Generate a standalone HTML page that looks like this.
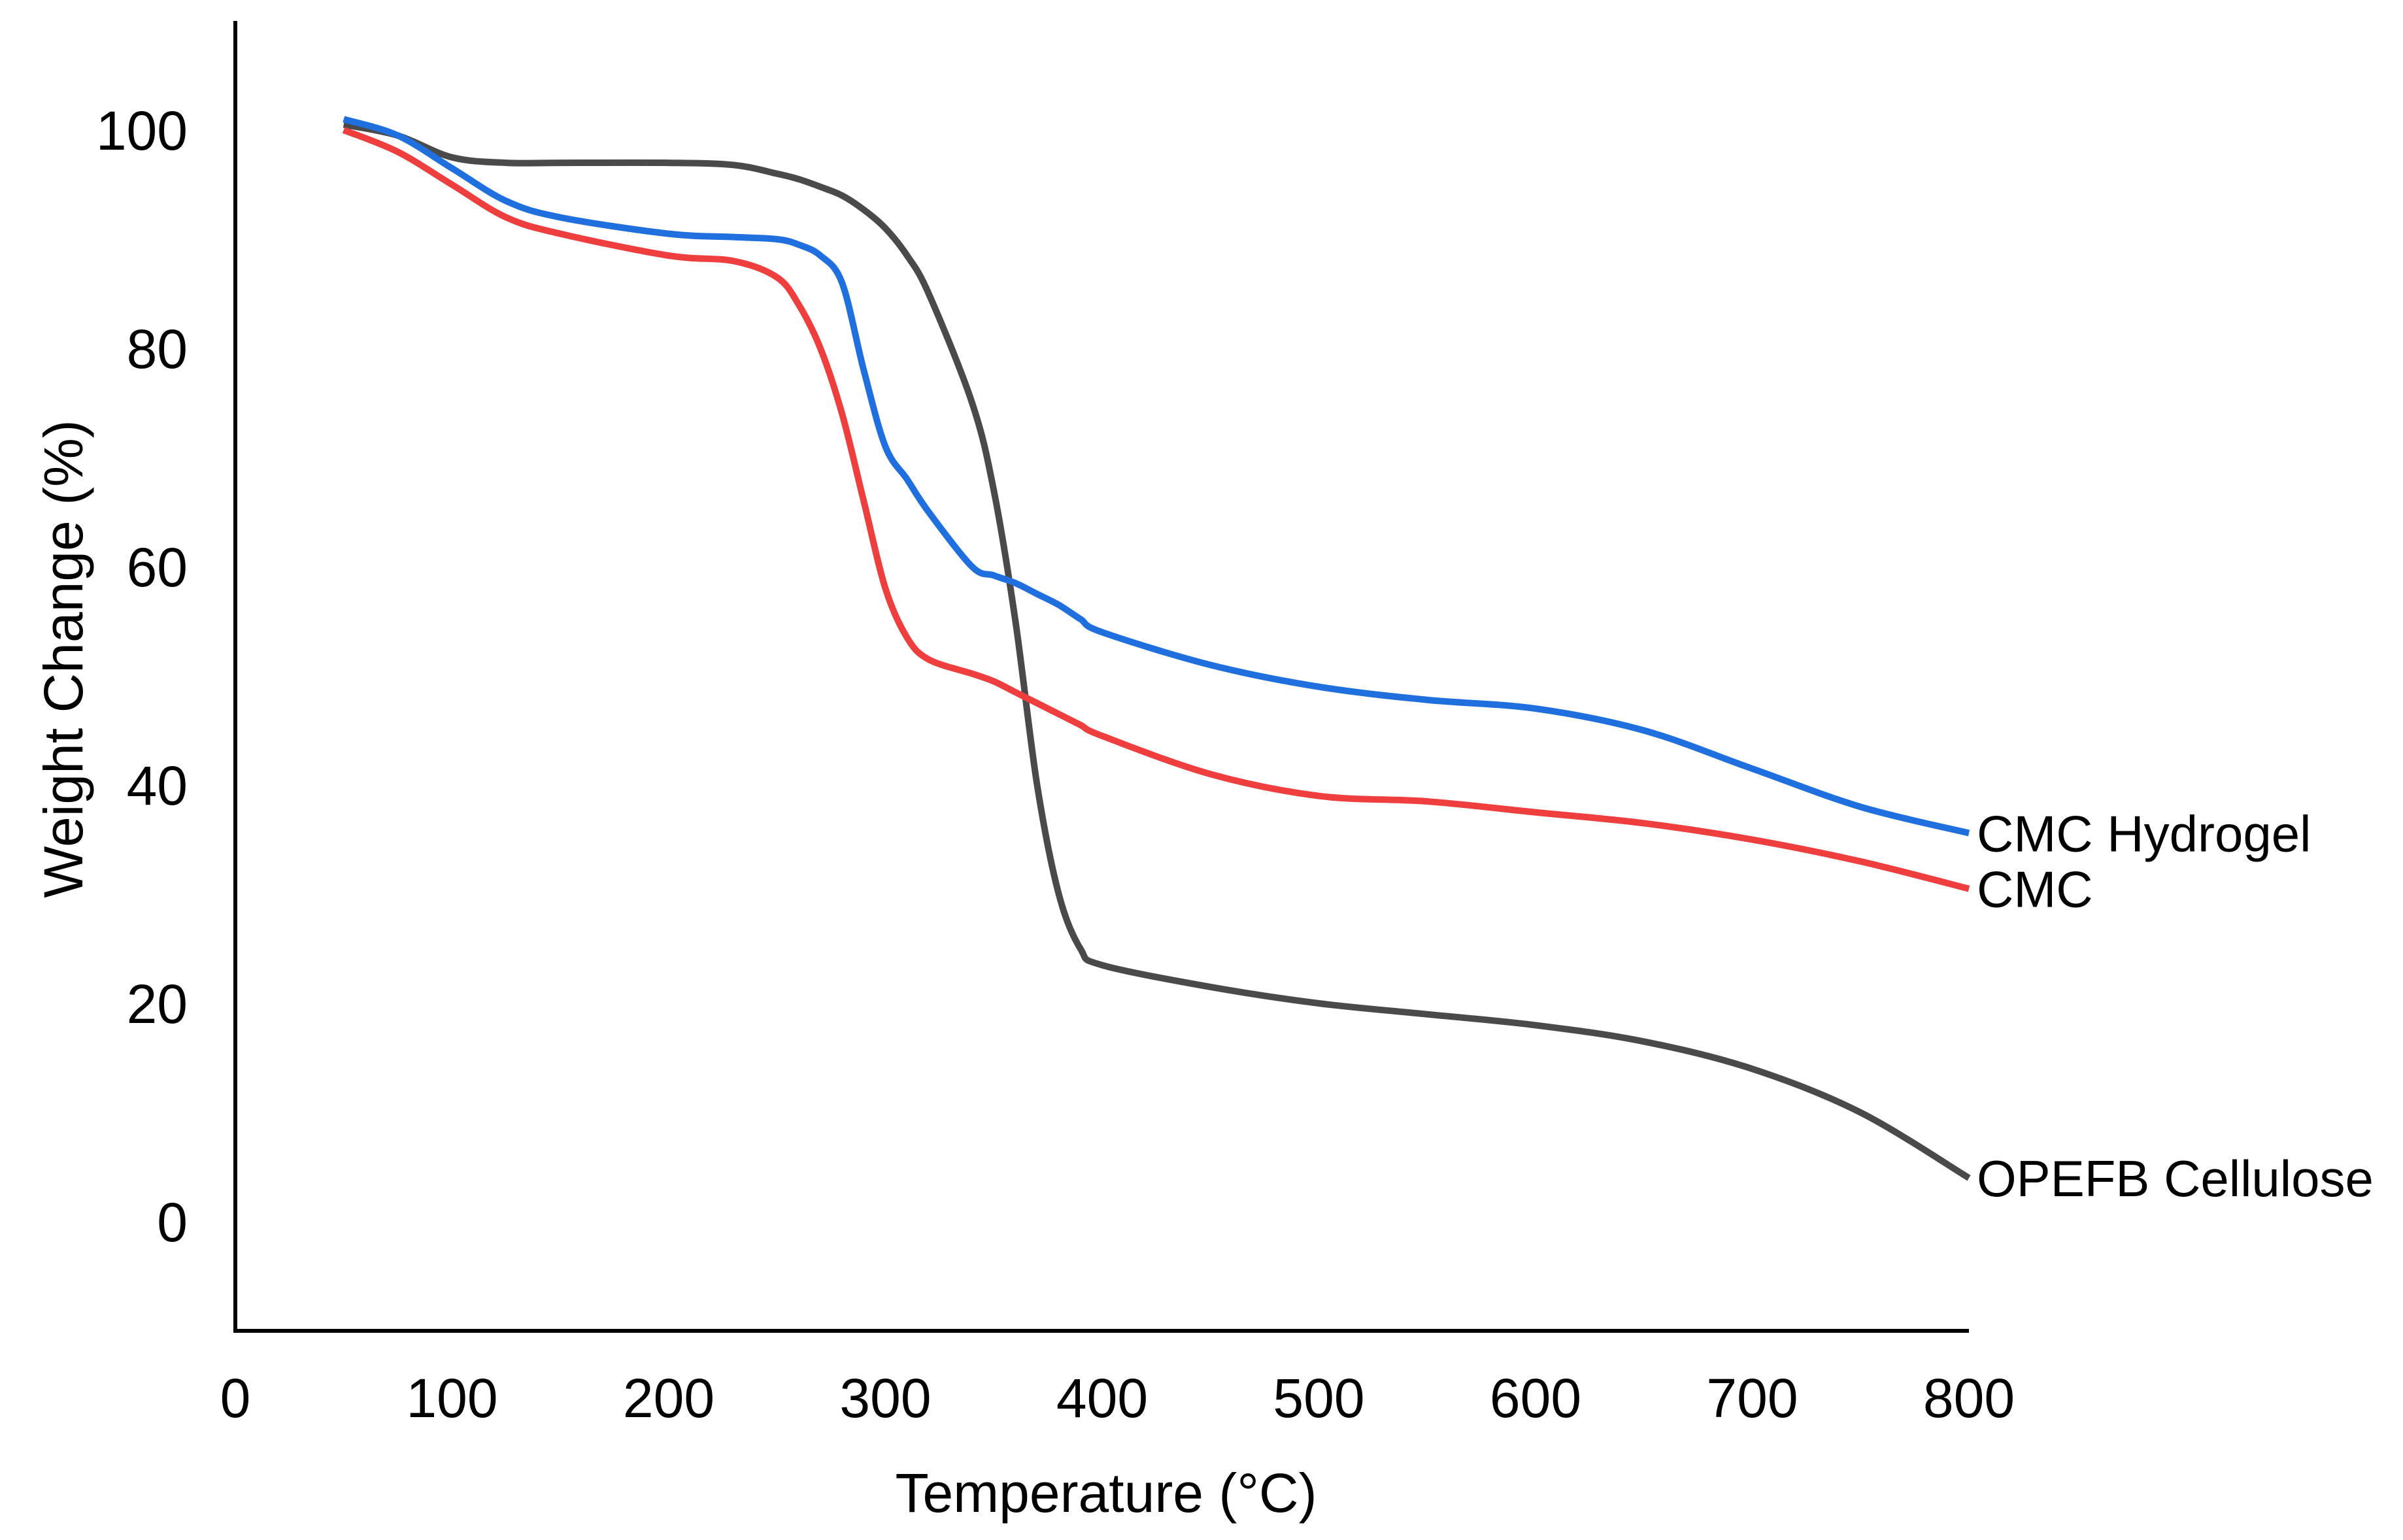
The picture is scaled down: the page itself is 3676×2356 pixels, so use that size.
<!DOCTYPE html>
<html><head><meta charset="utf-8"><style>
html,body{margin:0;padding:0;background:#fff;}
svg text{font-family:"Liberation Sans",Arial,sans-serif;fill:#000;}
</style></head><body>
<svg id="chart" width="3676" height="2351" viewBox="0 0 3676 2351" xmlns="http://www.w3.org/2000/svg">
<g id="axes"></g><g id="series"></g><g id="labels"></g>
</svg>
<script>
const temps = [50,75,100,125,150,200,230,250,260,270,280,290,300,310,320,340,350,360,370,380,390,400,450,500,550,600,650,700,750,800];
const opefb = [100.5,99.5,97.5,97,97,97,96.8,96,95.5,94.8,94,92.7,91,88.5,85,75,67,55,40,30,25,23.5,21.5,20,19,18,16.5,14,10,4];
const cmcHydrogel = [101,99.5,96.5,93.5,92,90.5,90.2,90,89.5,88.5,86,78,71,68,65,60,59.2,58.5,57.5,56.5,55.2,54,51,49,47.8,47,45,41.5,38,35.6];
const cmc = [100,98,95,92,90.5,88.5,88,86.5,84,80,74,66,58,53.5,51.5,50.2,49.5,48.5,47.5,46.5,45.5,44.5,41,39,38.5,37.5,36.5,35,33,30.5];
const xTicks = [0,100,200,300,400,500,600,700,800];
const yTicks = [0,20,40,60,80,100];
const seriesNames = ["CMC Hydrogel","CMC","OPEFB Cellulose"];

const NS="http://www.w3.org/2000/svg";
const X0=360,X1=3012,Y0=1869,PU=16.7;
function xs(v){return X0+(v-0)/800*(X1-X0);}
function ys(v){return Y0-v*PU;}
function mk(tag,parent){const e=document.createElementNS(NS,tag);document.getElementById(parent).appendChild(e);return e;}

let yl=mk('line','axes');


yl.setAttribute('x1',X0);yl.setAttribute('x2',X0);yl.setAttribute('y1',ys(110));yl.setAttribute('y2',ys(-10)+3);
yl.setAttribute('stroke','#000');yl.setAttribute('stroke-width','6');
let xl=mk('line','axes');


xl.setAttribute('x1',X0-3);xl.setAttribute('x2',X1);xl.setAttribute('y1',ys(-10));xl.setAttribute('y2',ys(-10));
xl.setAttribute('stroke','#000');xl.setAttribute('stroke-width','6');

xTicks.forEach(t=>{const e=mk('text','axes');


e.setAttribute('x',xs(t));e.setAttribute('y',2168);e.setAttribute('text-anchor','middle');e.setAttribute('font-size','84');e.textContent=t;});
yTicks.forEach(t=>{const e=mk('text','axes');


e.setAttribute('x',287);e.setAttribute('y',ys(t)+30);e.setAttribute('text-anchor','end');e.setAttribute('font-size','84');e.textContent=t;});

let xt=mk('text','labels');


xt.setAttribute('x',1692);xt.setAttribute('y',2313);xt.setAttribute('text-anchor','middle');xt.setAttribute('font-size','84');xt.textContent='Temperature (°C)';
let yt=mk('text','labels');


yt.setAttribute('transform','translate(126,1008) rotate(-90)');yt.setAttribute('text-anchor','middle');yt.setAttribute('font-size','84');yt.textContent='Weight Change (%)';

function pathD(vals){
  const p=temps.map((t,i)=>[xs(t),ys(vals[i])]);
  let d='M'+p[0][0]+','+p[0][1];
  for(let i=0;i<p.length-1;i++){
    const a=p[Math.max(0,i-1)],b=p[i],c=p[i+1],e=p[Math.min(p.length-1,i+2)];
    const c1=[b[0]+(c[0]-a[0])/6,b[1]+(c[1]-a[1])/6],c2=[c[0]-(e[0]-b[0])/6,c[1]-(e[1]-b[1])/6];
    d+=' C'+c1+' '+c2+' '+c;
  }
  return d;
}
const defs=[[opefb,'#4a4a4a','series-opefb-cellulose'],[cmc,'#ee3e3e','series-cmc'],[cmcHydrogel,'#1f6fde','series-cmc-hydrogel']];
defs.forEach(s=>{const e=mk('path','series');


e.setAttribute('d',pathD(s[0]));e.setAttribute('fill','none');e.setAttribute('stroke',s[1]);e.setAttribute('stroke-width','10');e.setAttribute('stroke-linejoin','round');});

const lastVals=[cmcHydrogel[cmcHydrogel.length-1],cmc[cmc.length-1],opefb[opefb.length-1]];
seriesNames.forEach((n,i)=>{const e=mk('text','labels');


e.setAttribute('x',X1+12);e.setAttribute('y',ys(lastVals[i])+28);e.setAttribute('font-size','78');e.textContent=n;});
</script>
</body></html>
